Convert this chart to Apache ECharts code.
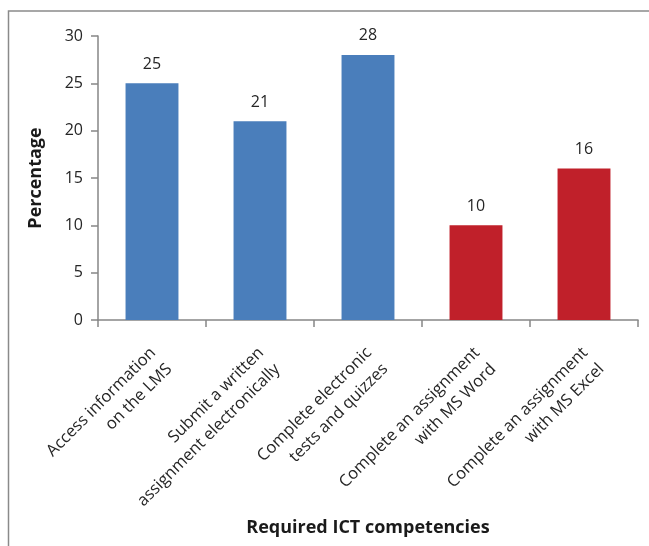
<!DOCTYPE html>
<html>
<head>
<meta charset="utf-8">
<script src="https://cdn.jsdelivr.net/npm/echarts@6/dist/echarts.min.js"></script>
<style>
html,body{margin:0;padding:0;background:#fff;}
#chart{width:649px;height:546px;}
</style>
</head>
<body>
<div id="chart"></div>
<script>
const categories = [
  "Access information\non the LMS",
  "Submit a written\nassignment electronically",
  "Complete electronic\ntests and quizzes",
  "Complete an assignment\nwith MS Word",
  "Complete an assignment\nwith MS Excel"
];
const values = [25, 21, 28, 10, 16];
const barColors = ["#4a7ebb", "#4a7ebb", "#4a7ebb", "#c0202a", "#c0202a"];
const yTicks = { min: 0, max: 30, interval: 5 };
const yAxisTitle = "Percentage";
const xAxisTitle = "Required ICT competencies";

const FONT = "Open Sans";
const chart = echarts.init(document.getElementById('chart'), null, {renderer: 'canvas'});
chart.setOption({
  animation: false,
  backgroundColor: '#fff',
  textStyle: { fontFamily: FONT },
  graphic: [{
    type: 'rect',
    shape: { x: 8.5, y: 11, width: 700, height: 600 },
    style: { fill: 'none', stroke: '#8a8a8a', lineWidth: 1.5 },
    silent: true
  }],
  grid: { left: 98, right: 11, top: 36, bottom: 226, containLabel: false },
  xAxis: {
    type: 'category',
    data: categories,
    boundaryGap: true,
    name: xAxisTitle,
    nameLocation: 'middle',
    nameGap: 196,
    nameTextStyle: { fontFamily: FONT, fontSize: 18, fontWeight: 'bold', color: '#1a1a1a', verticalAlign: 'top' },
    axisLine: { show: true, lineStyle: { color: '#868686', width: 1.5 } },
    axisTick: { show: true, alignWithLabel: false, length: 7, lineStyle: { color: '#868686', width: 1.5 } },
    axisLabel: {
      interval: 0,
      rotate: 45,
      margin: 15,
      align: 'right',
      verticalAlign: 'top',
      padding: [0, 10, 0, 0],
      fontFamily: FONT,
      fontSize: 16.5,
      lineHeight: 23,
      color: '#262626'
    },
    splitLine: { show: false }
  },
  yAxis: {
    type: 'value',
    min: yTicks.min,
    max: yTicks.max,
    interval: yTicks.interval,
    name: yAxisTitle,
    nameLocation: 'middle',
    nameGap: 53,
    nameTextStyle: { fontFamily: FONT, fontSize: 18, fontWeight: 'bold', color: '#1a1a1a' },
    axisLine: { show: true, lineStyle: { color: '#868686', width: 1.5 } },
    axisTick: { show: true, length: 7, lineStyle: { color: '#868686', width: 1.5 } },
    axisLabel: { margin: 15, fontFamily: FONT, fontSize: 16, color: '#262626' },
    splitLine: { show: false }
  },
  series: [{
    type: 'bar',
    data: values.map(function (v, i) { return { value: v, itemStyle: { color: barColors[i] } }; }),
    barWidth: '49%',
    label: {
      show: true,
      position: 'top',
      distance: 11,
      fontFamily: FONT,
      fontSize: 16,
      color: '#262626'
    }
  }]
});
</script>
</body>
</html>
